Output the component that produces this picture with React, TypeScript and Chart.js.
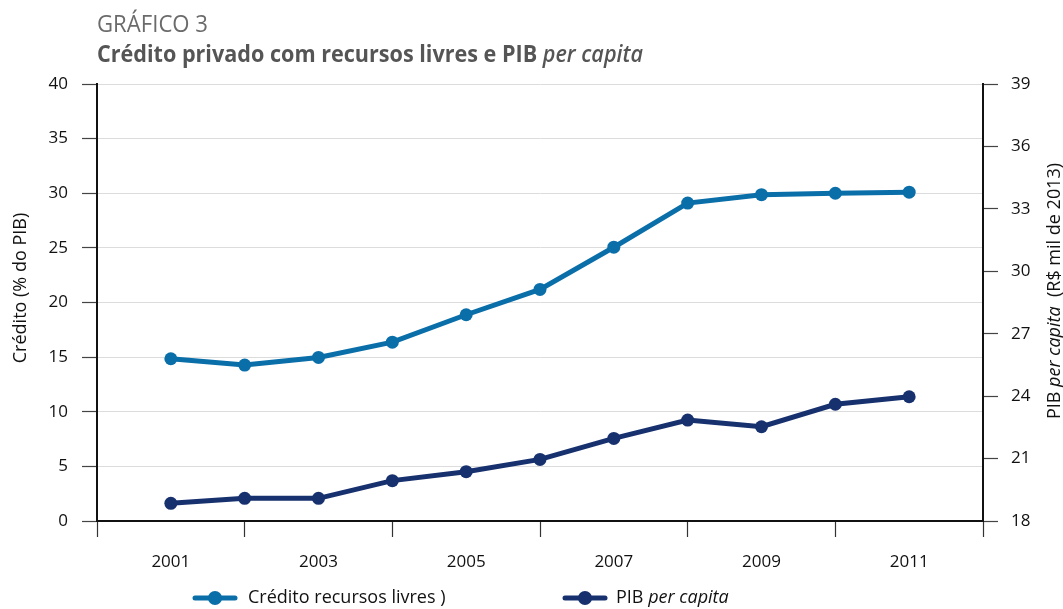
import React, { useEffect, useRef } from "react";
import { Chart, registerables } from "chart.js";

Chart.register(...registerables);

const years = [2001, 2002, 2003, 2004, 2005, 2006, 2007, 2008, 2009, 2010, 2011];
const creditoLivres = [14.85, 14.27, 14.97, 16.37, 18.88, 21.2, 25.06, 29.1, 29.87, 30.0, 30.1];
const pibPerCapita = [18.85, 19.09, 19.09, 19.94, 20.37, 20.96, 21.97, 22.85, 22.53, 23.61, 23.97];

const leftTicks = [0, 5, 10, 15, 20, 25, 30, 35, 40];
const rightTicks = [18, 21, 24, 27, 30, 33, 36, 39];
const xLabelYears = [2001, 2003, 2005, 2007, 2009, 2011];

const COLOR_CREDITO = "#0a6ea9";
const COLOR_PIB = "#17306e";
const FONT = "'Open Sans', 'Noto Sans', sans-serif";

const extrasPlugin = {
  id: "extras",
  afterDraw(chart: any) {
    const ctx = chart.ctx as CanvasRenderingContext2D;
    ctx.save();
    // Titles
    ctx.textBaseline = "alphabetic";
    ctx.textAlign = "left";
    ctx.fillStyle = "#6b6b6b";
    ctx.font = `400 23px ${FONT}`;
    const t1 = "GRÁFICO 3";
    const w1 = ctx.measureText(t1).width;
    ctx.save();
    ctx.translate(97, 32);
    ctx.scale(111 / w1, 1);
    ctx.fillText(t1, 0, 0);
    ctx.restore();

    const a = "Crédito privado com recursos livres e PIB ";
    const b = "per capita";
    ctx.fillStyle = "#555555";
    ctx.font = `700 24px ${FONT}`;
    const wa = ctx.measureText(a).width;
    ctx.font = `italic 600 24px ${FONT}`;
    const wb = ctx.measureText(b).width;
    const s2 = 546 / (wa + wb);
    ctx.save();
    ctx.translate(97, 62);
    ctx.scale(s2, 1);
    ctx.font = `700 24px ${FONT}`;
    ctx.fillText(a, 0, 0);
    ctx.font = `italic 600 24px ${FONT}`;
    ctx.fillText(b, wa, 0);
    ctx.restore();

    // Left axis title
    ctx.fillStyle = "#111";
    ctx.font = `400 18px ${FONT}`;
    ctx.save();
    ctx.translate(21, 288);
    ctx.rotate(-Math.PI / 2);
    ctx.textAlign = "center";
    ctx.textBaseline = "middle";
    ctx.fillText("Crédito (% do PIB)", 0, 0);
    ctx.restore();

    // Right axis title (mixed styles)
    const parts: [string, string][] = [
      ["PIB ", `400 18px ${FONT}`],
      ["per capita", `italic 400 18px ${FONT}`],
      ["  (R$ mil de 2013)", `400 18px ${FONT}`],
    ];
    let total = 0;
    const widths = parts.map(([txt, f]) => {
      ctx.font = f;
      const w = ctx.measureText(txt).width;
      total += w;
      return w;
    });
    ctx.save();
    ctx.translate(1055, 291);
    ctx.rotate(-Math.PI / 2);
    ctx.textAlign = "left";
    ctx.textBaseline = "middle";
    let x = -total / 2;
    parts.forEach(([txt, f], i) => {
      ctx.font = f;
      ctx.fillText(txt, x, 0);
      x += widths[i];
    });
    ctx.restore();

    // Legend
    const drawMarker = (cx: number, color: string) => {
      ctx.strokeStyle = color;
      ctx.lineWidth = 5;
      ctx.lineCap = "round";
      ctx.beginPath();
      ctx.moveTo(cx - 20, 598);
      ctx.lineTo(cx + 20, 598);
      ctx.stroke();
      ctx.fillStyle = color;
      ctx.beginPath();
      ctx.arc(cx, 598, 7, 0, Math.PI * 2);
      ctx.fill();
    };
    drawMarker(215, COLOR_CREDITO);
    drawMarker(585, COLOR_PIB);
    ctx.fillStyle = "#111";
    ctx.textAlign = "left";
    ctx.textBaseline = "middle";
    ctx.font = `400 18px ${FONT}`;
    ctx.fillText("Crédito recursos livres )", 248, 598);
    ctx.fillText("PIB ", 616, 598);
    const wp = ctx.measureText("PIB ").width;
    ctx.font = `italic 400 18px ${FONT}`;
    ctx.fillText("per capita", 616 + wp, 598);
    ctx.restore();
  },
};

export default function App() {
  const canvasRef = useRef<HTMLCanvasElement | null>(null);

  useEffect(() => {
    document.body.style.margin = "0";
    const canvas = canvasRef.current;
    if (!canvas) return;
    const chart = new Chart(canvas, {
      type: "line",
      data: {
        datasets: [
          {
            label: "Crédito recursos livres )",
            data: years.map((y, i) => ({ x: y, y: creditoLivres[i] })),
            borderColor: COLOR_CREDITO,
            backgroundColor: COLOR_CREDITO,
            borderWidth: 5,
            pointRadius: 6.5,
            pointBorderWidth: 0,
            pointBackgroundColor: COLOR_CREDITO,
            yAxisID: "y",
            tension: 0,
          },
          {
            label: "PIB per capita",
            data: years.map((y, i) => ({ x: y, y: pibPerCapita[i] })),
            borderColor: COLOR_PIB,
            backgroundColor: COLOR_PIB,
            borderWidth: 5,
            pointRadius: 6.5,
            pointBorderWidth: 0,
            pointBackgroundColor: COLOR_PIB,
            yAxisID: "y1",
            tension: 0,
          },
        ],
      },
      options: {
        animation: false,
        responsive: false,
        maintainAspectRatio: false,
        layout: { padding: { top: 84, left: 0, right: 0, bottom: 0 } },
        plugins: {
          legend: { display: false },
          title: { display: false },
          tooltip: { enabled: false },
        },
        scales: {
          x: {
            type: "linear",
            position: "bottom",
            min: 2000,
            max: 2012,
            afterFit: (s: any) => {
              s.height = 88;
            },
            afterBuildTicks: (s: any) => {
              const t = [];
              for (let v = 2000; v <= 2012; v++) t.push({ value: v });
              s.ticks = t;
            },
            ticks: {
              autoSkip: false,
              maxRotation: 0,
              minRotation: 0,
              padding: 15,
              color: "#111",
              font: { family: FONT, size: 17 },
              callback: (v: any) => (xLabelYears.includes(Number(v)) ? String(v) : ""),
            },
            grid: {
              drawOnChartArea: false,
              drawTicks: true,
              tickLength: 16,
              tickWidth: 1.2,
              tickColor: (c: any) =>
                c.tick && Number(c.tick.value) % 2 === 0 ? "#333" : "rgba(0,0,0,0)",
            },
            border: { display: true, color: "#111", width: 2 },
          },
          y: {
            type: "linear",
            position: "left",
            min: 0,
            max: 40,
            afterFit: (s: any) => {
              s.width = 97;
            },
            afterBuildTicks: (s: any) => {
              s.ticks = leftTicks.map((v) => ({ value: v }));
            },
            ticks: {
              padding: 14,
              color: "#111",
              font: { family: FONT, size: 17 },
            },
            grid: {
              drawOnChartArea: true,
              color: "#dcdcdc",
              lineWidth: 1,
              drawTicks: true,
              tickLength: 15,
              tickColor: "#444",
              tickWidth: 1.2,
            },
            border: { display: true, color: "#111", width: 2 },
          },
          y1: {
            type: "linear",
            position: "right",
            min: 18,
            max: 39,
            afterFit: (s: any) => {
              s.width = 80;
            },
            afterBuildTicks: (s: any) => {
              s.ticks = rightTicks.map((v) => ({ value: v }));
            },
            ticks: {
              padding: 13,
              color: "#111",
              font: { family: FONT, size: 17 },
            },
            grid: {
              drawOnChartArea: false,
              drawTicks: true,
              tickLength: 15,
              tickColor: "#444",
              tickWidth: 1.2,
            },
            border: { display: true, color: "#111", width: 2 },
          },
        },
      },
      plugins: [extrasPlugin],
    } as any);
    return () => chart.destroy();
  }, []);

  return (
    <div style={{ position: "relative", width: 1063, height: 609, background: "#fff" }}>
      <canvas ref={canvasRef} width={1063} height={609} style={{ display: "block" }} />
    </div>
  );
}
